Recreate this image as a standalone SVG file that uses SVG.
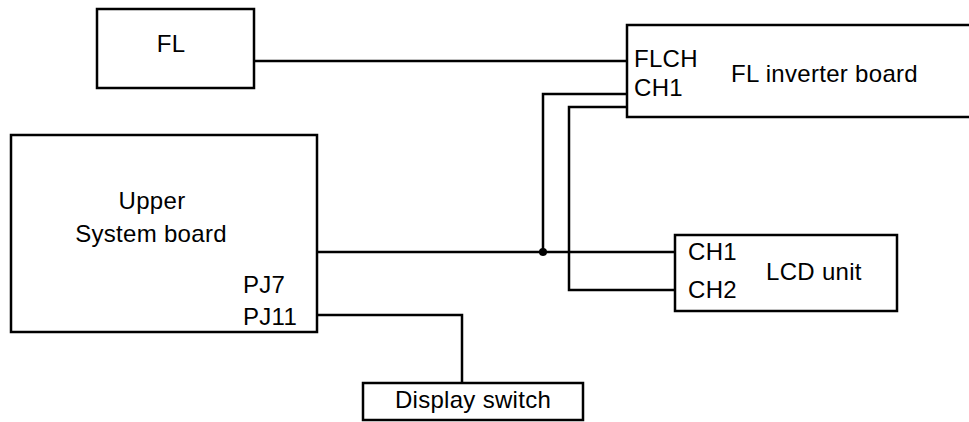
<svg xmlns="http://www.w3.org/2000/svg" width="969" height="422" viewBox="0 0 969 422">
<style>
.box{fill:none;stroke:#000;stroke-width:2.5}
.wire{fill:none;stroke:#000;stroke-width:2.5}
text{font-family:"Liberation Sans",Arial,sans-serif;font-size:24px;fill:#000;letter-spacing:0.3px}
</style>
<rect width="969" height="422" fill="#fff"/>
<g id="fl">
<rect class="box" x="97" y="9" width="157" height="79"/>
<text x="171" y="52" text-anchor="middle">FL</text>
</g>
<g id="fl-inverter-board">
<path class="box" d="M972,25 H627 V117 H972"/>
<text x="634" y="67">FLCH</text>
<text x="634" y="96">CH1</text>
<text x="731" y="82">FL inverter board</text>
</g>
<g id="upper-system-board">
<rect class="box" x="11" y="135" width="306" height="197"/>
<text x="152" y="209" text-anchor="middle">Upper</text>
<text x="151" y="242" text-anchor="middle">System board</text>
<text x="243" y="293">PJ7</text>
<text x="243" y="325">PJ11</text>
</g>
<g id="lcd-unit">
<rect class="box" x="675" y="235" width="222" height="76"/>
<text x="688" y="260">CH1</text>
<text x="688" y="298">CH2</text>
<text x="766" y="280">LCD unit</text>
</g>
<g id="display-switch">
<rect class="box" x="363" y="383" width="220" height="37"/>
<text x="473" y="408" text-anchor="middle">Display switch</text>
</g>
<g id="connectors">
<path class="wire" d="M254,61 H627"/>
<path class="wire" d="M317,252 H675"/>
<path class="wire" d="M627,94 H543 V252"/>
<path class="wire" d="M627,107 H569 V290 H675"/>
<path class="wire" d="M317,315 H462 V383"/>
<circle cx="543" cy="252" r="4" fill="#000"/>
</g>
</svg>
